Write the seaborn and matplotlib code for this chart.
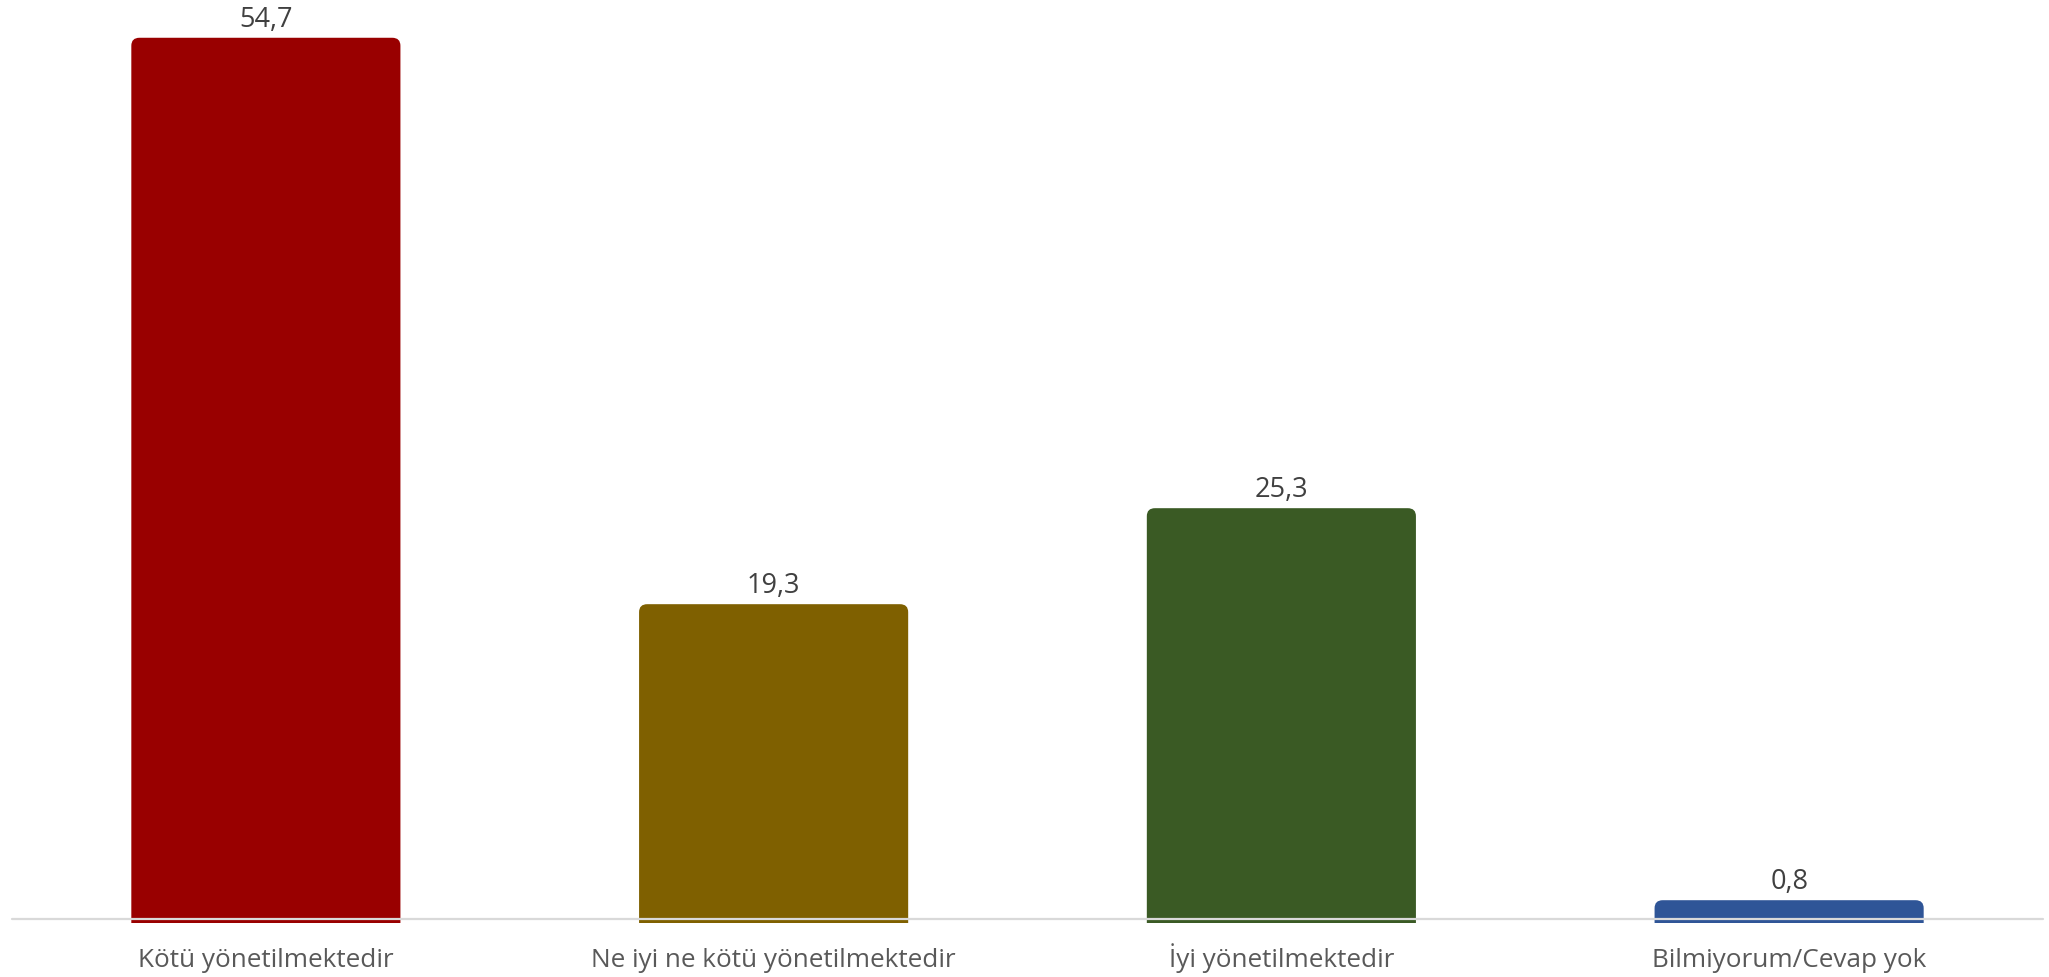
import matplotlib
matplotlib.use("Agg")
import matplotlib.pyplot as plt
from matplotlib.patches import FancyBboxPatch
from matplotlib.transforms import offset_copy
import seaborn as sns
import pandas as pd

# data
categories = ["Kötü yönetilmektedir", "Ne iyi ne kötü yönetilmektedir",
              "İyi yönetilmektedir", "Bilmiyorum/Cevap yok"]
values = [54.7, 19.3, 25.3, 0.8]
colors = ["#990000", "#7F6000", "#3A5A24", "#2F5597"]

df = pd.DataFrame({"category": categories, "value": values})

sns.set_style("white")
plt.rcParams["font.family"] = ["Open Sans", "DejaVu Sans"]

fig = plt.figure(figsize=(20.49, 9.77), dpi=100)
ax = fig.add_axes([12 / 2049, (977 - 923) / 977, 2031 / 2049, 923 / 977])

sns.barplot(data=df, x="category", y="value", hue="category", palette=colors,
            width=0.53, legend=False, ax=ax, saturation=1)

ax.set_xlim(-0.5, 3.5)
ax.set_ylim(-0.625, 57.06)

# swap the plain bars for ones with rounded tops
for bar in ax.patches:
    x, w, h = bar.get_x(), bar.get_width(), bar.get_height()
    rounded = FancyBboxPatch((x, -2), w, h + 2,
                             boxstyle="round,pad=0,rounding_size=0.016",
                             mutation_aspect=31, facecolor=bar.get_facecolor(),
                             edgecolor="none", zorder=2)
    ax.add_patch(rounded)
    bar.set_visible(False)

# value labels with comma decimals
for cont in ax.containers:
    ax.bar_label(cont, labels=[f"{v:.1f}".replace(".", ",") for v in cont.datavalues],
                 padding=3, fontsize=19.5, color="#404040")

# light baseline, sitting a few pixels under zero and drawn over the bars
base_tr = offset_copy(ax.get_yaxis_transform(), fig=fig, y=-6, units="dots")
ax.plot([0, 1], [0, 0], color="#D9D9D9", linewidth=1.6, transform=base_tr,
        zorder=3, clip_on=False)

for s in ax.spines.values():
    s.set_visible(False)
ax.set_yticks([])
ax.set_xlabel("")
ax.set_ylabel("")
ax.tick_params(axis="x", length=0, pad=31.5, labelsize=18.8, labelcolor="#595959")
plt.setp(ax.get_xticklabels(), va="baseline")

fig.savefig("out.png", dpi=100)
